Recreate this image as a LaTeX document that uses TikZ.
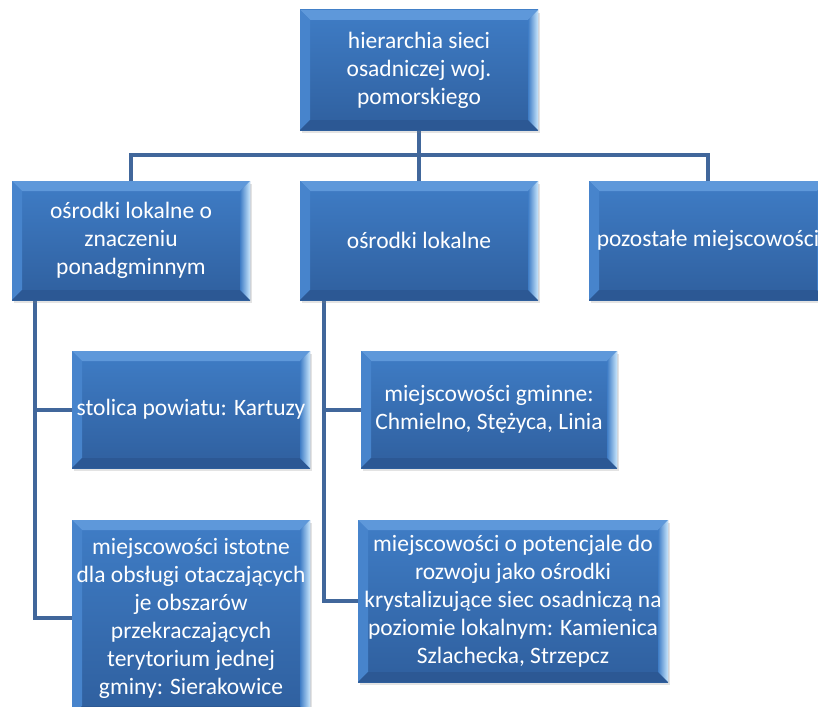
\documentclass[tikz,border=0pt]{standalone}
\usepackage{fontspec}
\setmainfont{Carlito}
\usetikzlibrary{shadows}
\pgfdeclarelayer{background}
\pgfsetlayers{background,main}
\definecolor{boxtop}{HTML}{3F7DC6}
\definecolor{boxbot}{HTML}{2F5F9E}
\definecolor{bevtop}{HTML}{5E98DA}
\definecolor{bevleft}{HTML}{4784CC}
\definecolor{bevright}{HTML}{C8E6FC}
\definecolor{bevbot}{HTML}{2C5894}
\definecolor{conn}{HTML}{41679B}
\newcommand{\bevw}{10pt}
\tikzset{
  bx/.style={rectangle, inner sep=0pt, align=center, text=white,
    font=\fontsize{23.5}{28}\selectfont,
    top color=boxtop, bottom color=boxbot,
    drop shadow={opacity=0.22, shadow xshift=2pt, shadow yshift=-3pt},
    path picture={
      \fill[bevtop] (path picture bounding box.north west) -- (path picture bounding box.north east)
        -- ([xshift=-\bevw,yshift=-\bevw]path picture bounding box.north east)
        -- ([xshift=\bevw,yshift=-\bevw]path picture bounding box.north west) -- cycle;
      \fill[bevleft] (path picture bounding box.north west)
        -- ([xshift=\bevw,yshift=-\bevw]path picture bounding box.north west)
        -- ([xshift=\bevw,yshift=\bevw]path picture bounding box.south west)
        -- (path picture bounding box.south west) -- cycle;
      \fill[bevbot] (path picture bounding box.south west) -- (path picture bounding box.south east)
        -- ([xshift=-\bevw,yshift=\bevw]path picture bounding box.south east)
        -- ([xshift=\bevw,yshift=\bevw]path picture bounding box.south west) -- cycle;
      \shade[left color=boxtop, right color=bevright] (path picture bounding box.north east)
        -- (path picture bounding box.south east)
        -- ([xshift=-\bevw,yshift=\bevw]path picture bounding box.south east)
        -- ([xshift=-\bevw,yshift=-\bevw]path picture bounding box.north east) -- cycle;
    }},
  conline/.style={draw=conn, line width=4pt, line join=miter}
}
\begin{document}
\begin{tikzpicture}[x=1pt,y=-1pt]
\begin{pgfonlayer}{background}
\fill[white] (0,0) rectangle (818,706);
\end{pgfonlayer}
\clip (0,0) rectangle (818,706);
\useasboundingbox (0,0) rectangle (818,706);

\node[bx, minimum width=238pt, minimum height=120pt] (top) at (419,70)
  {hierarchia sieci\\osadniczej woj.\\pomorskiego};
\node[bx, minimum width=238pt, minimum height=119pt] (L1) at (131,240.5)
  {ośrodki lokalne o\\znaczeniu\\ponadgminnym};
\node[bx, minimum width=238pt, minimum height=119pt] (M1) at (419,240.5)
  {ośrodki lokalne};
\node[bx, minimum width=238pt, minimum height=119pt] (R1) at (708,240.5)
  {pozostałe miejscowości};
\node[bx, minimum width=238pt, minimum height=117pt] (L2a) at (191,409.5)
  {stolica powiatu: Kartuzy};
\node[bx, minimum width=238pt, minimum height=196pt] (L2b) at (191,618)
  {miejscowości istotne\\dla obsługi otaczających\\je obszarów\\przekraczających\\terytorium jednej\\gminy: Sierakowice};
\node[bx, minimum width=256pt, minimum height=117pt] (M2a) at (489,409.5)
  {miejscowości gminne:\\Chmielno, Stężyca, Linia};
\node[bx, minimum width=310pt, minimum height=162pt] (M2b) at (513,601)
  {miejscowości o potencjale do\\rozwoju jako ośrodki\\krystalizujące siec osadniczą na\\poziomie lokalnym: Kamienica\\Szlachecka, Strzepcz};

\coordinate (bus) at (0,155);
\coordinate (lt) at ([xshift=23pt]L1.south west);
\coordinate (mt) at ([xshift=24pt]M1.south west);

\begin{pgfonlayer}{background}
\draw[conline] (top.south) -- (top.south |- bus) -| (L1.north);
\draw[conline] (top.south |- bus) -| (R1.north);
\draw[conline] (top.south |- bus) -- (M1.north);
\draw[conline] (lt) |- (L2a.west);
\draw[conline] (lt) |- (L2b.west);
\draw[conline] (mt) |- (M2a.west);
\draw[conline] (mt) |- (M2b.west);
\end{pgfonlayer}
\end{tikzpicture}
\end{document}
